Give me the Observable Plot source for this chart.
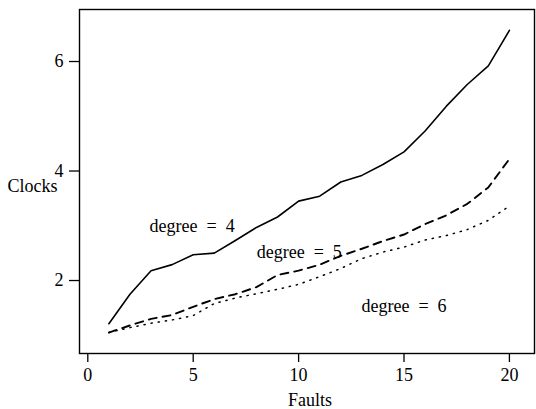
<!DOCTYPE html>
<html>
<head>
<meta charset="utf-8">
<script src="https://cdn.jsdelivr.net/npm/d3@7"></script>
<script src="https://cdn.jsdelivr.net/npm/@observablehq/plot@0.6"></script>
<style>
  html, body { margin: 0; padding: 0; background: #fff; }
</style>
</head>
<body>
<div id="chart"></div>
<script>
const faults = [1,2,3,4,5,6,7,8,9,10,11,12,13,14,15,16,17,18,19,20];
const degree4 = [1.21,1.75,2.18,2.29,2.47,2.50,2.73,2.97,3.16,3.45,3.54,3.80,3.92,4.12,4.35,4.73,5.18,5.58,5.92,6.57];
const degree5 = [1.05,1.18,1.30,1.37,1.52,1.66,1.75,1.88,2.10,2.18,2.29,2.45,2.58,2.72,2.84,3.03,3.19,3.40,3.70,4.22];
const degree6 = [1.05,1.14,1.22,1.28,1.36,1.58,1.68,1.76,1.84,1.93,2.07,2.22,2.40,2.52,2.61,2.74,2.82,2.93,3.10,3.36];
const xTicks = [0, 5, 10, 15, 20];
const yTicks = [2, 4, 6];
const seriesLabels = ["degree\u2002=\u20024", "degree\u2002=\u20025", "degree\u2002=\u20026"];
const labelX = [4.95, 10.03, 15.0];
const labelY = [3.0, 2.51, 1.53];

const toRows = (vals) => faults.map((f, i) => ({x: f, y: vals[i]}));
const labelRows = seriesLabels.map((t, i) => ({text: t, x: labelX[i], y: labelY[i]}));

const font = "'Liberation Serif', 'DejaVu Serif', serif";

const chart = Plot.plot({
  width: 536,
  height: 409,
  marginLeft: 79,
  marginRight: 2,
  marginTop: 9,
  marginBottom: 56,
  style: {fontFamily: font, fontSize: "18px", color: "#000", background: "#fff"},
  x: {domain: [-0.394, 21.19]},
  y: {domain: [0.667, 6.95]},
  marks: [
    Plot.frame({stroke: "#000", strokeWidth: 1.4}),
    Plot.axisX({ticks: xTicks, tickSize: 9, tickPadding: 6, label: null, tickFormat: d => String(d), fontSize: 18, strokeWidth: 1.3}),
    Plot.axisY({ticks: yTicks, tickSize: 10, tickPadding: 6, label: null, tickFormat: d => String(d), fontSize: 18, strokeWidth: 1.3}),
    Plot.line(toRows(degree4), {x: "x", y: "y", stroke: "#000", strokeWidth: 1.6}),
    Plot.line(toRows(degree5), {x: "x", y: "y", stroke: "#000", strokeWidth: 1.9, strokeDasharray: "8,6"}),
    Plot.line(toRows(degree6), {x: "x", y: "y", stroke: "#000", strokeWidth: 1.5, strokeDasharray: "1.2,6"}),
    Plot.text(labelRows, {x: "x", y: "y", text: "text", fontSize: 18, fill: "#000", textAnchor: "middle", lineAnchor: "middle"}),
    Plot.text(["Clocks"], {frameAnchor: "left", dx: -47, dy: 5, text: d => d, fontSize: 18, fill: "#000", textAnchor: "middle", lineAnchor: "middle"}),
    Plot.text(["Faults"], {frameAnchor: "bottom", dx: 3, dy: 47, text: d => d, fontSize: 18, fill: "#000", textAnchor: "middle", lineAnchor: "middle"})
  ]
});
document.getElementById("chart").appendChild(chart);
</script>
</body>
</html>
